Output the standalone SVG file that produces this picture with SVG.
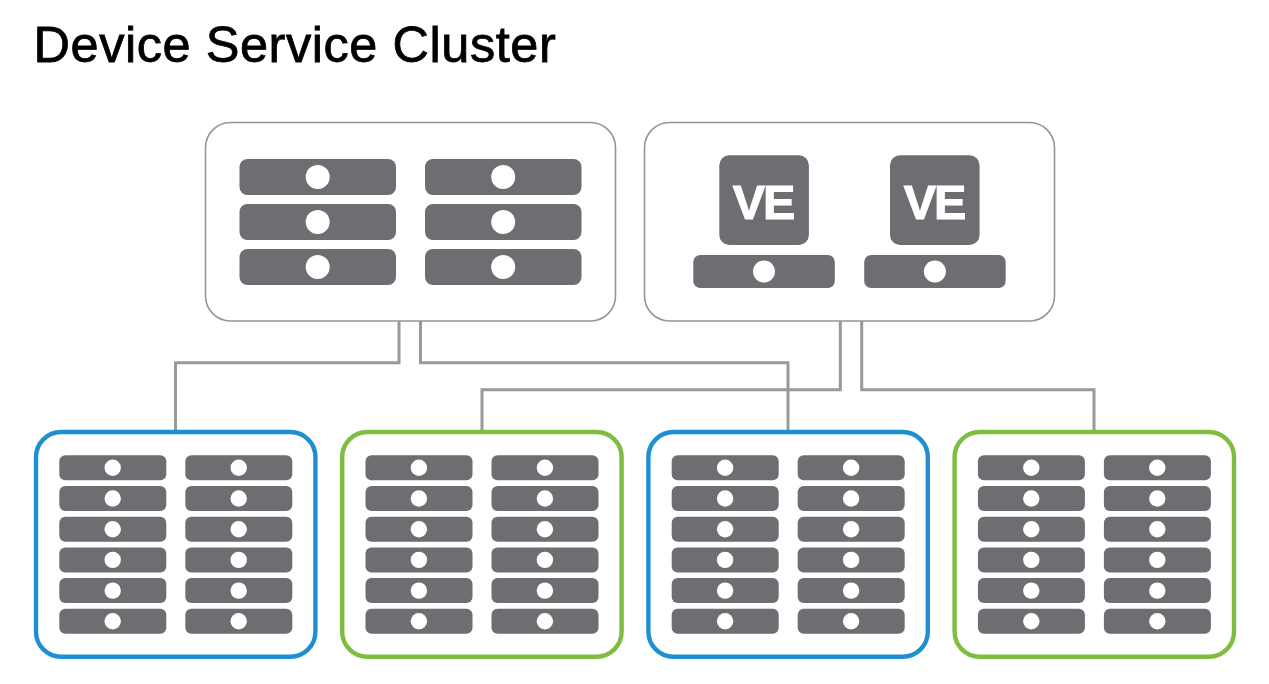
<svg xmlns="http://www.w3.org/2000/svg" width="1269" height="684" viewBox="0 0 1269 684">
<style>
.srv{fill:#6d6e71}
.dot{fill:#fff}
.panel{fill:#fff;stroke:#939598;stroke-width:1.6}
.rack{fill:#fff;stroke-width:4.4}
.blue{stroke:#1e90d2}
.green{stroke:#7fbd42}
.conn{fill:none;stroke:#98999c;stroke-width:3}
.title{font-family:"Liberation Sans",Arial,sans-serif;font-size:50.5px;letter-spacing:0.55px;fill:#000;stroke:#000;stroke-width:0.8px}
.ve{font-family:"Liberation Sans",Arial,sans-serif;font-size:48.5px;font-weight:700;fill:#fff;stroke:#fff;stroke-width:1.1px;text-anchor:middle;letter-spacing:-2px}
</style>
<defs>
<g id="big"><rect class="srv" width="156.5" height="36" rx="8"/><circle class="dot" cx="78.2" cy="18" r="12"/></g>
<g id="small"><rect class="srv" width="107" height="25" rx="6"/><circle class="dot" cx="53.4" cy="12.5" r="8.2"/></g>
<g id="mid"><rect class="srv" width="141.5" height="33" rx="7"/><circle class="dot" cx="70.7" cy="16.5" r="11"/></g>
<rect id="vebox" class="srv" width="89.6" height="89.6" rx="10"/>
<g id="rackrows">
<use href="#small" x="0" y="0"/><use href="#small" x="126" y="0"/>
<use href="#small" x="0" y="30.7"/><use href="#small" x="126" y="30.7"/>
<use href="#small" x="0" y="61.4"/><use href="#small" x="126" y="61.4"/>
<use href="#small" x="0" y="92.1"/><use href="#small" x="126" y="92.1"/>
<use href="#small" x="0" y="122.8"/><use href="#small" x="126" y="122.8"/>
<use href="#small" x="0" y="153.5"/><use href="#small" x="126" y="153.5"/>
</g>
</defs>
<rect width="1269" height="684" fill="#fff"/>
<text class="title" x="33.5" y="61.5">Device Service Cluster</text>
<g id="connectors">
<path class="conn" d="M399 321V362.7H175.5V431"/>
<path class="conn" d="M420.5 321V362.7H788V431"/>
<path class="conn" d="M840.3 321V389.7H482V431"/>
<path class="conn" d="M861.7 321V389.7H1094V431"/>
</g>
<g id="server-panel">
<rect class="panel" x="205.5" y="122.5" width="410" height="198.5" rx="25"/>
<use href="#big" x="239.5" y="159"/><use href="#big" x="425" y="159"/>
<use href="#big" x="239.5" y="204"/><use href="#big" x="425" y="204"/>
<use href="#big" x="239.5" y="249"/><use href="#big" x="425" y="249"/>
</g>
<g id="ve-panel">
<rect class="panel" x="644.5" y="122.5" width="410" height="198.5" rx="25"/>
<use href="#vebox" x="719.3" y="155.3"/>
<text class="ve" x="763" y="218.5">VE</text>
<use href="#mid" x="693.3" y="255"/>
<use href="#vebox" x="890" y="155.3"/>
<text class="ve" x="934" y="218.5">VE</text>
<use href="#mid" x="864.2" y="255"/>
</g>
<g id="rack-1"><rect class="rack blue" x="36" y="432" width="279.4" height="224.7" rx="25"/><use href="#rackrows" x="59.3" y="455.3"/></g>
<g id="rack-2"><rect class="rack green" x="342.2" y="432" width="279.4" height="224.7" rx="25"/><use href="#rackrows" x="365.5" y="455.3"/></g>
<g id="rack-3"><rect class="rack blue" x="648.4" y="432" width="279.4" height="224.7" rx="25"/><use href="#rackrows" x="671.7" y="455.3"/></g>
<g id="rack-4"><rect class="rack green" x="954.6" y="432" width="279.4" height="224.7" rx="25"/><use href="#rackrows" x="977.9" y="455.3"/></g>
</svg>
